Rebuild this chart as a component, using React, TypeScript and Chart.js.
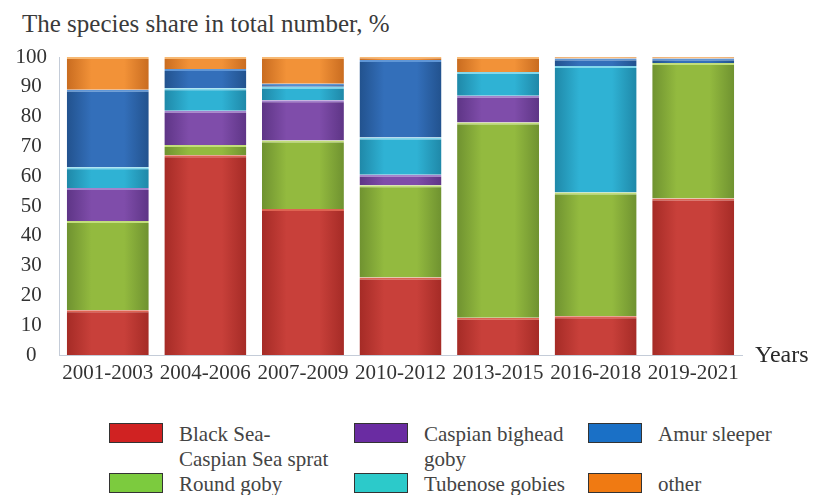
import React, { useEffect, useRef } from "react";
import { Chart, registerables } from "chart.js";

Chart.register(...registerables);

const categories = ["2001-2003", "2004-2006", "2007-2009", "2010-2012", "2013-2015", "2016-2018", "2019-2021"];
const sprat = [15, 67, 49, 26, 12.5, 13, 52.5];
const roundGoby = [30, 3.5, 23, 31, 65.5, 41.5, 45.5];
const caspianBighead = [11, 11.5, 13.5, 3.5, 9, 0, 0];
const tubenose = [7, 7.5, 4.5, 12.5, 8, 42.5, 0];
const amurSleeper = [26, 6.5, 1, 26, 0, 2.5, 1.5];
const other = [11, 4, 9, 1, 5, 0.5, 0.5];
const yTicks = [0, 10, 20, 30, 40, 50, 60, 70, 80, 90, 100];

const seriesNames = ["Black Sea-\nCaspian Sea sprat", "Round goby", "Caspian bighead\ngoby", "Tubenose gobies", "Amur sleeper", "other"];
const barCenterColors = ["#C8403A", "#93BA3F", "#7F4DAA", "#2FB2D4", "#336FBA", "#F29238"];
const barEdgeColors = ["#A52B26", "#6F9230", "#5E3586", "#1F88A8", "#22528E", "#C96C20"];
const highlightColors = ["#DE6452", "#C2DE7A", "#A482CC", "#82D8EC", "#5F96D6", "#F7B872"];
const swatchColors = ["#D02222", "#7CCB3E", "#6A2CA2", "#2CCACA", "#1A70C6", "#F07A12"];

const FONT = "'Liberation Serif', 'Times New Roman', serif";
const BAR_PCT = 0.84;

export default function App() {
  const canvasRef = useRef<HTMLCanvasElement | null>(null);

  useEffect(() => {
    document.body.style.margin = "0";
    const canvas = canvasRef.current;
    if (!canvas) return;
    const seriesData = [sprat, roundGoby, caspianBighead, tubenose, amurSleeper, other];

    const gradientFor = (i: number) => (ctx: any) => {
      const chart = ctx.chart;
      const xs = chart.scales && chart.scales.x;
      if (!chart.chartArea || !xs || ctx.dataIndex === undefined) return barCenterColors[i];
      const cx = xs.getPixelForValue(ctx.dataIndex);
      const w = (xs.width / categories.length) * BAR_PCT;
      const g = chart.ctx.createLinearGradient(cx - w / 2, 0, cx + w / 2, 0);
      g.addColorStop(0, barEdgeColors[i]);
      g.addColorStop(0.3, barCenterColors[i]);
      g.addColorStop(0.7, barCenterColors[i]);
      g.addColorStop(1, barEdgeColors[i]);
      return g;
    };

    const chart = new Chart(canvas, {
      type: "bar",
      data: {
        labels: categories,
        datasets: seriesData.map((d, i) => ({
          label: seriesNames[i].replace("\n", " "),
          data: d,
          backgroundColor: gradientFor(i),
          borderColor: highlightColors[i],
          borderWidth: { top: 2, right: 0, bottom: 0, left: 0 },
          borderSkipped: false,
          barPercentage: BAR_PCT,
          categoryPercentage: 1,
        })),
      },
      options: {
        animation: false,
        responsive: true,
        maintainAspectRatio: false,
        layout: { padding: { top: 57, right: 75, bottom: 0, left: 0 } },
        plugins: {
          legend: { display: false },
          title: { display: false },
          tooltip: { enabled: false },
        },
        scales: {
          x: {
            stacked: true,
            grid: { display: false, drawTicks: false },
            border: { display: true, color: "#C4CCD8", width: 1 },
            ticks: {
              color: "#333",
              font: { family: FONT, size: 21 },
              padding: 6,
              maxRotation: 0,
              minRotation: 0,
              autoSkip: false,
            },
            afterFit: (scale: any) => {
              scale.height = 55;
            },
          },
          y: {
            stacked: true,
            min: 0,
            max: 100,
            afterBuildTicks: (scale: any) => {
              scale.ticks = yTicks.map((v) => ({ value: v }));
            },
            grid: { display: false, drawTicks: false },
            border: { display: true, color: "#C4CCD8", width: 1 },
            ticks: {
              color: "#333",
              font: { family: FONT, size: 21 },
              padding: 12,
              crossAlign: "center",
            },
            afterFit: (scale: any) => {
              scale.width = 59;
            },
          },
        },
      },
    });
    return () => chart.destroy();
  }, []);

  const colX = [109, 354, 588];
  const rowY = [423, 473];
  const legendItems = [
    { i: 0, col: 0, row: 0 },
    { i: 2, col: 1, row: 0 },
    { i: 4, col: 2, row: 0 },
    { i: 1, col: 0, row: 1 },
    { i: 3, col: 1, row: 1 },
    { i: 5, col: 2, row: 1 },
  ];

  return (
    <div style={{ position: "relative", width: 817, height: 495, background: "#fff", overflow: "hidden", fontFamily: FONT }}>
      <div
        style={{
          position: "absolute",
          left: 22,
          top: 9,
          fontSize: 25,
          lineHeight: "30px",
          color: "#3a3a3a",
          whiteSpace: "nowrap",
        }}
      >
        The species share in total number, %
      </div>
      <div style={{ position: "absolute", left: 0, top: 0, width: 817, height: 410 }}>
        <canvas ref={canvasRef} />
      </div>
      <div
        style={{
          position: "absolute",
          left: 755,
          top: 339,
          fontSize: 24,
          lineHeight: "30px",
          color: "#2a2a2a",
        }}
      >
        Years
      </div>
      {legendItems.map(({ i, col, row }) => (
        <React.Fragment key={i}>
          <div
            style={{
              position: "absolute",
              left: colX[col],
              top: rowY[row],
              width: 52,
              height: 18,
              background: swatchColors[i],
              border: "1px solid #333",
            }}
          />
          <div
            style={{
              position: "absolute",
              left: colX[col] + 70,
              top: rowY[row] - 1,
              fontSize: 21,
              lineHeight: "25px",
              color: "#444",
              whiteSpace: "pre",
            }}
          >
            {seriesNames[i]}
          </div>
        </React.Fragment>
      ))}
    </div>
  );
}
